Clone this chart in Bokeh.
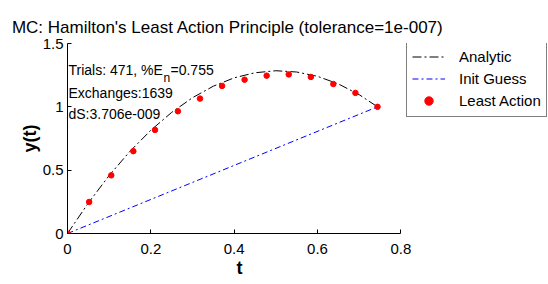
from bokeh.plotting import figure
from bokeh.models import Range1d, FixedTicker, Label, Legend, LegendItem, Title
from bokeh.embed import file_html
from bokeh.resources import INLINE

FONT = "Liberation Sans"

# --- data ---
t_action = [0.0, 0.052, 0.105, 0.158, 0.210, 0.265, 0.318, 0.371, 0.425, 0.478, 0.531, 0.584, 0.638, 0.691, 0.744]
y_action = [0.0, 0.249, 0.459, 0.650, 0.818, 0.965, 1.065, 1.165, 1.214, 1.246, 1.256, 1.236, 1.180, 1.110, 1.0]

t_analytic = [0.0, 0.05, 0.1, 0.15, 0.2, 0.25, 0.3, 0.35, 0.4, 0.45, 0.5, 0.55, 0.6, 0.65, 0.7, 0.744]
y_analytic = [0.0, 0.241, 0.458, 0.649, 0.815, 0.956, 1.072, 1.163, 1.229, 1.269, 1.285, 1.275, 1.241, 1.181, 1.096, 1.0]

t_guess = [0.0, 0.744]
y_guess = [0.0, 1.0]

x_ticks = [0, 0.2, 0.4, 0.6, 0.8]
x_tick_labels = ["0", "0.2", "0.4", "0.6", "0.8"]
y_ticks = [0, 0.5, 1, 1.5]
y_tick_labels = ["0", "0.5", "1", "1.5"]

title_text = "MC: Hamilton's Least Action Principle (tolerance=1e-007)"
x_label = "t"
y_label = "y(t)"
series_names = ["Analytic", "Init Guess", "Least Action"]
info_lines = ["Trials: 471, %E", "Exchanges:1639", "dS:3.706e-009"]

# frame spans the legend area too; the x axis line itself is bounded to 0..0.8
p = figure(width=548, height=284, output_backend="svg", toolbar_location=None,
           x_range=Range1d(0, 1.152), y_range=Range1d(0, 1.5),
           min_border_left=67, min_border_right=1, min_border_top=43, min_border_bottom=51)
p.outline_line_color = None
p.xgrid.visible = False
p.ygrid.visible = False
p.background_fill_color = "white"
p.border_fill_color = "white"

p.title.text = title_text
p.title.align = "left"
p.title.offset = -55.6
p.title.standoff = 13
p.title.text_font = FONT
p.title.text_font_size = "17px"
p.title.text_font_style = "normal"
p.title.text_color = "black"

for ax, ticks, labels in ((p.xaxis[0], x_ticks, x_tick_labels), (p.yaxis[0], y_ticks, y_tick_labels)):
    ax.ticker = FixedTicker(ticks=ticks)
    ax.major_label_overrides = {tk: lb for tk, lb in zip(ticks, labels)}
    ax.axis_line_color = "black"
    ax.major_tick_line_color = "black"
    ax.major_tick_in = 4
    ax.major_tick_out = 0
    ax.minor_tick_line_color = None
    ax.major_label_text_font = FONT
    ax.major_label_text_font_size = "15px"
    ax.major_label_text_color = "black"
    ax.axis_label_text_font = FONT
    ax.axis_label_text_font_style = "bold"
    ax.axis_label_text_font_size = "18px"
    ax.axis_label_text_color = "black"

p.xaxis.bounds = (0, 0.8)
p.yaxis.axis_label = y_label
p.xaxis.major_label_standoff = 10
p.yaxis.major_label_standoff = 4
p.yaxis.axis_label_standoff = 0

# x-axis label, centred under the 0..0.8 axis (the frame is wider because of the legend)
p.add_layout(Title(text=x_label, align="left", offset=169, standoff=3, vertical_align="top",
                   text_font=FONT, text_font_size="18px", text_font_style="bold",
                   text_color="black"), "below")

r_an = p.line(t_analytic, y_analytic, line_color="black", line_width=1, line_dash="9 3 2 3")
r_gu = p.line(t_guess, y_guess, line_color="blue", line_width=1, line_dash="6 3 2 3")
r_la = p.scatter(t_action, y_action, size=5.5, color="red", line_color="red")

legend = Legend(items=[LegendItem(label=series_names[0], renderers=[r_an]),
                       LegendItem(label=series_names[1], renderers=[r_gu]),
                       LegendItem(label=series_names[2], renderers=[r_la])],
                location=(339, 116), margin=0, padding=5, spacing=1,
                glyph_width=33, glyph_height=21, label_height=21, label_standoff=14,
                label_text_font=FONT, label_text_font_size="15px", label_text_color="black",
                border_line_color="black", border_line_width=1,
                background_fill_color="white", background_fill_alpha=1.0)
p.add_layout(legend, "center")

info_y = [163.3, 141.0, 120.0]
for txt, yy in zip(info_lines, info_y):
    p.add_layout(Label(x=1, y=yy, x_units="screen", y_units="screen", text=txt,
                       text_font=FONT, text_font_size="14px", text_color="black",
                       text_baseline="alphabetic"))
p.add_layout(Label(x=96, y=155.6, x_units="screen", y_units="screen", text="n",
                   text_font=FONT, text_font_size="12px", text_color="black",
                   text_baseline="alphabetic"))
p.add_layout(Label(x=103, y=163.3, x_units="screen", y_units="screen", text="=0.755",
                   text_font=FONT, text_font_size="14px", text_color="black",
                   text_baseline="alphabetic"))

open("out.html", "w").write(file_html(p, INLINE))
